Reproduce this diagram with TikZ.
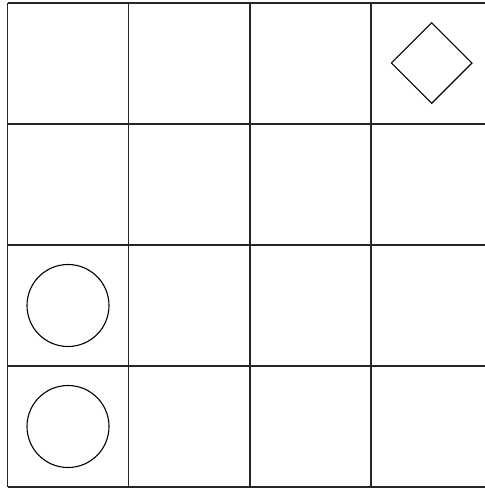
\documentclass[tikz,border=0pt]{standalone}
\usetikzlibrary{shapes.geometric}
\begin{document}
\begin{tikzpicture}[x=1pt,y=-1pt,
  gridline/.style={line width=1.3pt,black!85},
  ring/.style={circle,draw,line width=1.1pt,minimum size=82pt,inner sep=0pt},
  rhomb/.style={diamond,draw,line width=1.1pt,minimum width=81pt,minimum height=81pt,inner sep=0pt}]
\useasboundingbox (0,0) rectangle (485,488);
\fill[white] (0,0) rectangle (485,488);
\foreach \xx in {7.5,128.7,249.9,371.1,492.3}
  \draw[gridline] (\xx,3) -- (\xx,487);
\foreach \yy in {3,124,245,366,487}
  \draw[gridline] (7.5,\yy) -- (492.3,\yy);
\node[rhomb] (d) at (431.7,63) {};
\node[ring] (c1) at (68,305.5) {};
\node[ring] (c2) at (68,426.5) {};
\end{tikzpicture}
\end{document}
